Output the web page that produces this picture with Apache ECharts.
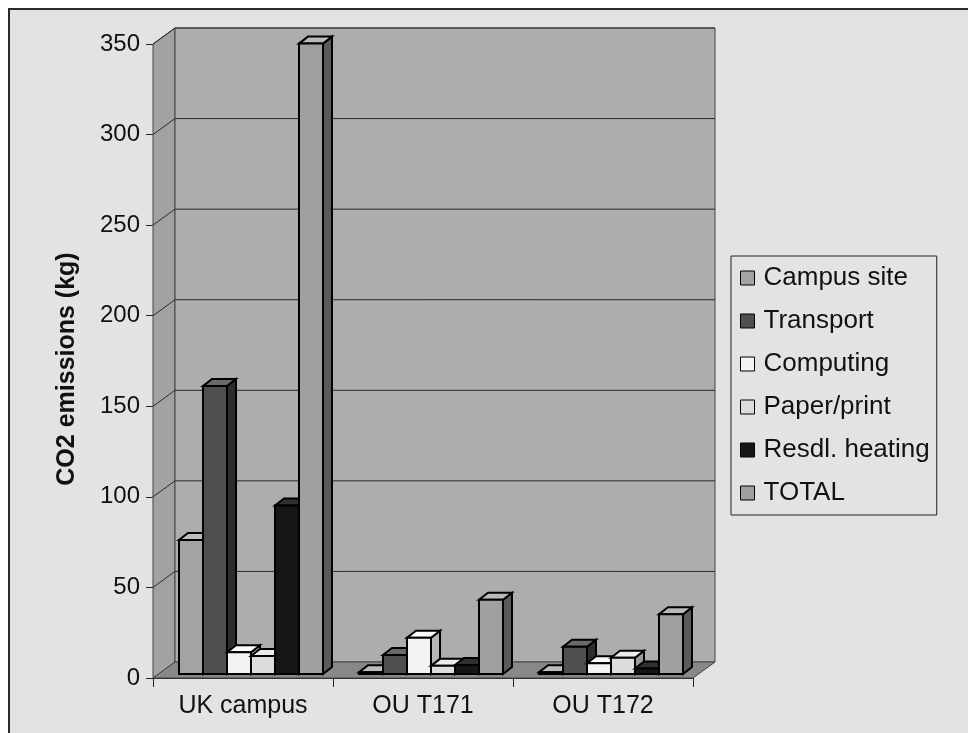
<!DOCTYPE html>
<html>
<head>
<meta charset="utf-8">
<script src="https://cdn.jsdelivr.net/npm/echarts@6/dist/echarts.min.js"></script>
<style>
html,body{margin:0;padding:0;background:#ffffff;}
#chart{width:968px;height:733px;}
</style>
</head>
<body>
<div id="chart"></div>
<script>
// ---- data ----
const categories = ['UK campus', 'OU T171', 'OU T172'];
const seriesNames = ['Campus site', 'Transport', 'Computing', 'Paper/print', 'Resdl. heating', 'TOTAL'];
const campusSite   = [74, 1, 1];
const transport    = [159, 10.5, 15];
const computing    = [12, 20, 6];
const paperPrint   = [10, 4.5, 9];
const resdlHeating = [93, 5, 3];
const total        = [348, 41, 33];
const yTicks = [0, 50, 100, 150, 200, 250, 300, 350];

const seriesValues = [campusSite, transport, computing, paperPrint, resdlHeating, total];

// ---- style ----
const FONT = 'Liberation Sans';
const faceColors = [
  {front: '#a3a3a3', top: '#bdbdbd', side: '#5e5e5e'},
  {front: '#4f4f4f', top: '#6a6a6a', side: '#2c2c2c'},
  {front: '#f3f3f3', top: '#fbfbfb', side: '#b5b5b5'},
  {front: '#dcdcdc', top: '#ebebeb', side: '#999999'},
  {front: '#161616', top: '#303030', side: '#0a0a0a'},
  {front: '#a0a0a0', top: '#bababa', side: '#5a5a5a'}
];
const WALL_DX = 22, WALL_DY = 16;
const BAR_SHIFT_Y = 4, BAR_DX = 9, BAR_DY = 7;

function wallsRender(params, api) {
  const cs = params.coordSys;
  const xL = cs.x, xR = cs.x + cs.width;
  const y0 = api.coord([0, 0])[1];
  const yT = api.coord([0, yTicks[yTicks.length - 1]])[1];
  const children = [];
  children.push({type: 'polygon', shape: {points: [[xL, y0], [xL, yT], [xL + WALL_DX, yT - WALL_DY], [xL + WALL_DX, y0 - WALL_DY]]},
    style: {fill: '#a2a2a2', stroke: '#444', lineWidth: 1}});
  children.push({type: 'polygon', shape: {points: [[xL + WALL_DX, yT - WALL_DY], [xR + WALL_DX, yT - WALL_DY], [xR + WALL_DX, y0 - WALL_DY], [xL + WALL_DX, y0 - WALL_DY]]},
    style: {fill: '#adadad', stroke: '#444', lineWidth: 1}});
  children.push({type: 'polygon', shape: {points: [[xL, y0], [xL + WALL_DX, y0 - WALL_DY], [xR + WALL_DX, y0 - WALL_DY], [xR, y0]]},
    style: {fill: '#888888', stroke: '#444', lineWidth: 1}});
  yTicks.forEach(function (v) {
    if (v === 0) return;
    const y = api.coord([0, v])[1];
    children.push({type: 'polyline', shape: {points: [[xL, y], [xL + WALL_DX, y - WALL_DY], [xR + WALL_DX, y - WALL_DY]]},
      style: {fill: null, stroke: '#2a2a2a', lineWidth: 1}});
  });
  return {type: 'group', children: children};
}

function makeBarRender(i) {
  return function (params, api) {
    const cat = api.value(0);
    const v = api.value(1);
    const base = api.coord([cat, 0]);
    const top = api.coord([cat, v]);
    const band = api.size([1, 0])[0];
    const w = band * 24 / 180;
    const x0 = base[0] - band / 2 + band * 26 / 180 + i * w;
    const yb = base[1] - BAR_SHIFT_Y;
    const yt = top[1] - BAR_SHIFT_Y;
    const c = faceColors[i];
    const st = {stroke: '#000', lineWidth: 2, lineJoin: 'miter'};
    return {type: 'group', children: [
      {type: 'polygon', shape: {points: [[x0 + w, yt], [x0 + w + BAR_DX, yt - BAR_DY], [x0 + w + BAR_DX, yb - BAR_DY], [x0 + w, yb]]},
        style: Object.assign({fill: c.side}, st)},
      {type: 'polygon', shape: {points: [[x0, yt], [x0 + w, yt], [x0 + w + BAR_DX, yt - BAR_DY], [x0 + BAR_DX, yt - BAR_DY]]},
        style: Object.assign({fill: c.top}, st)},
      {type: 'rect', shape: {x: x0, y: yt, width: w, height: yb - yt},
        style: Object.assign({fill: c.front}, st)}
    ]};
  };
}

const series = [{
  type: 'custom', name: '__walls', renderItem: wallsRender, data: [[0, 0]], clip: false, silent: true, z: 1,
  encode: {x: 0, y: 1}
}];
seriesNames.forEach(function (name, i) {
  series.push({
    type: 'custom', name: name, renderItem: makeBarRender(i), clip: false, z: 2,
    itemStyle: {color: faceColors[i].front},
    encode: {x: 0, y: 1},
    data: seriesValues[i].map(function (v, k) { return [k, v]; })
  });
});

const chart = echarts.init(document.getElementById('chart'), null, {renderer: 'canvas'});
chart.setOption({
  animation: false,
  backgroundColor: '#ffffff',
  textStyle: {fontFamily: FONT},
  graphic: [{
    type: 'rect', z: -10, silent: true,
    shape: {x: 9, y: 9, width: 2000, height: 2000},
    style: {fill: '#e3e3e5', stroke: '#2a2a2a', lineWidth: 2}
  }],
  grid: {left: 153, right: 275, top: 44, bottom: 55, containLabel: false},
  xAxis: {
    type: 'category', data: categories,
    axisLine: {show: true, lineStyle: {color: '#222', width: 1}},
    axisTick: {show: true, length: 9, lineStyle: {color: '#222'}},
    axisLabel: {fontSize: 25, color: '#111', margin: 16, fontFamily: FONT},
    splitLine: {show: false}
  },
  yAxis: {
    type: 'value', min: 0, max: 350, interval: 50,
    name: 'CO2 emissions (kg)', nameLocation: 'middle', nameGap: 73,
    nameTextStyle: {fontSize: 25, fontWeight: 'bold', color: '#111', fontFamily: FONT, padding: [0, 16, 0, 0]},
    axisLine: {show: true, lineStyle: {color: '#222', width: 1}},
    axisTick: {show: true, length: 7, lineStyle: {color: '#222'}},
    axisLabel: {fontSize: 24, color: '#111', margin: 13, fontFamily: FONT},
    splitLine: {show: false}
  },
  legend: {
    data: seriesNames,
    orient: 'vertical', left: 731, top: 256,
    icon: 'rect', itemWidth: 14, itemHeight: 14, itemGap: 17,
    padding: [9, 7, 9, 9],
    borderColor: '#222', borderWidth: 1,
    itemStyle: {borderColor: '#000', borderWidth: 1},
    textStyle: {fontSize: 26, color: '#111', lineHeight: 26, fontFamily: FONT, padding: [0, 0, 0, 4]},
    selectedMode: false
  },
  series: series
});
</script>
</body>
</html>
